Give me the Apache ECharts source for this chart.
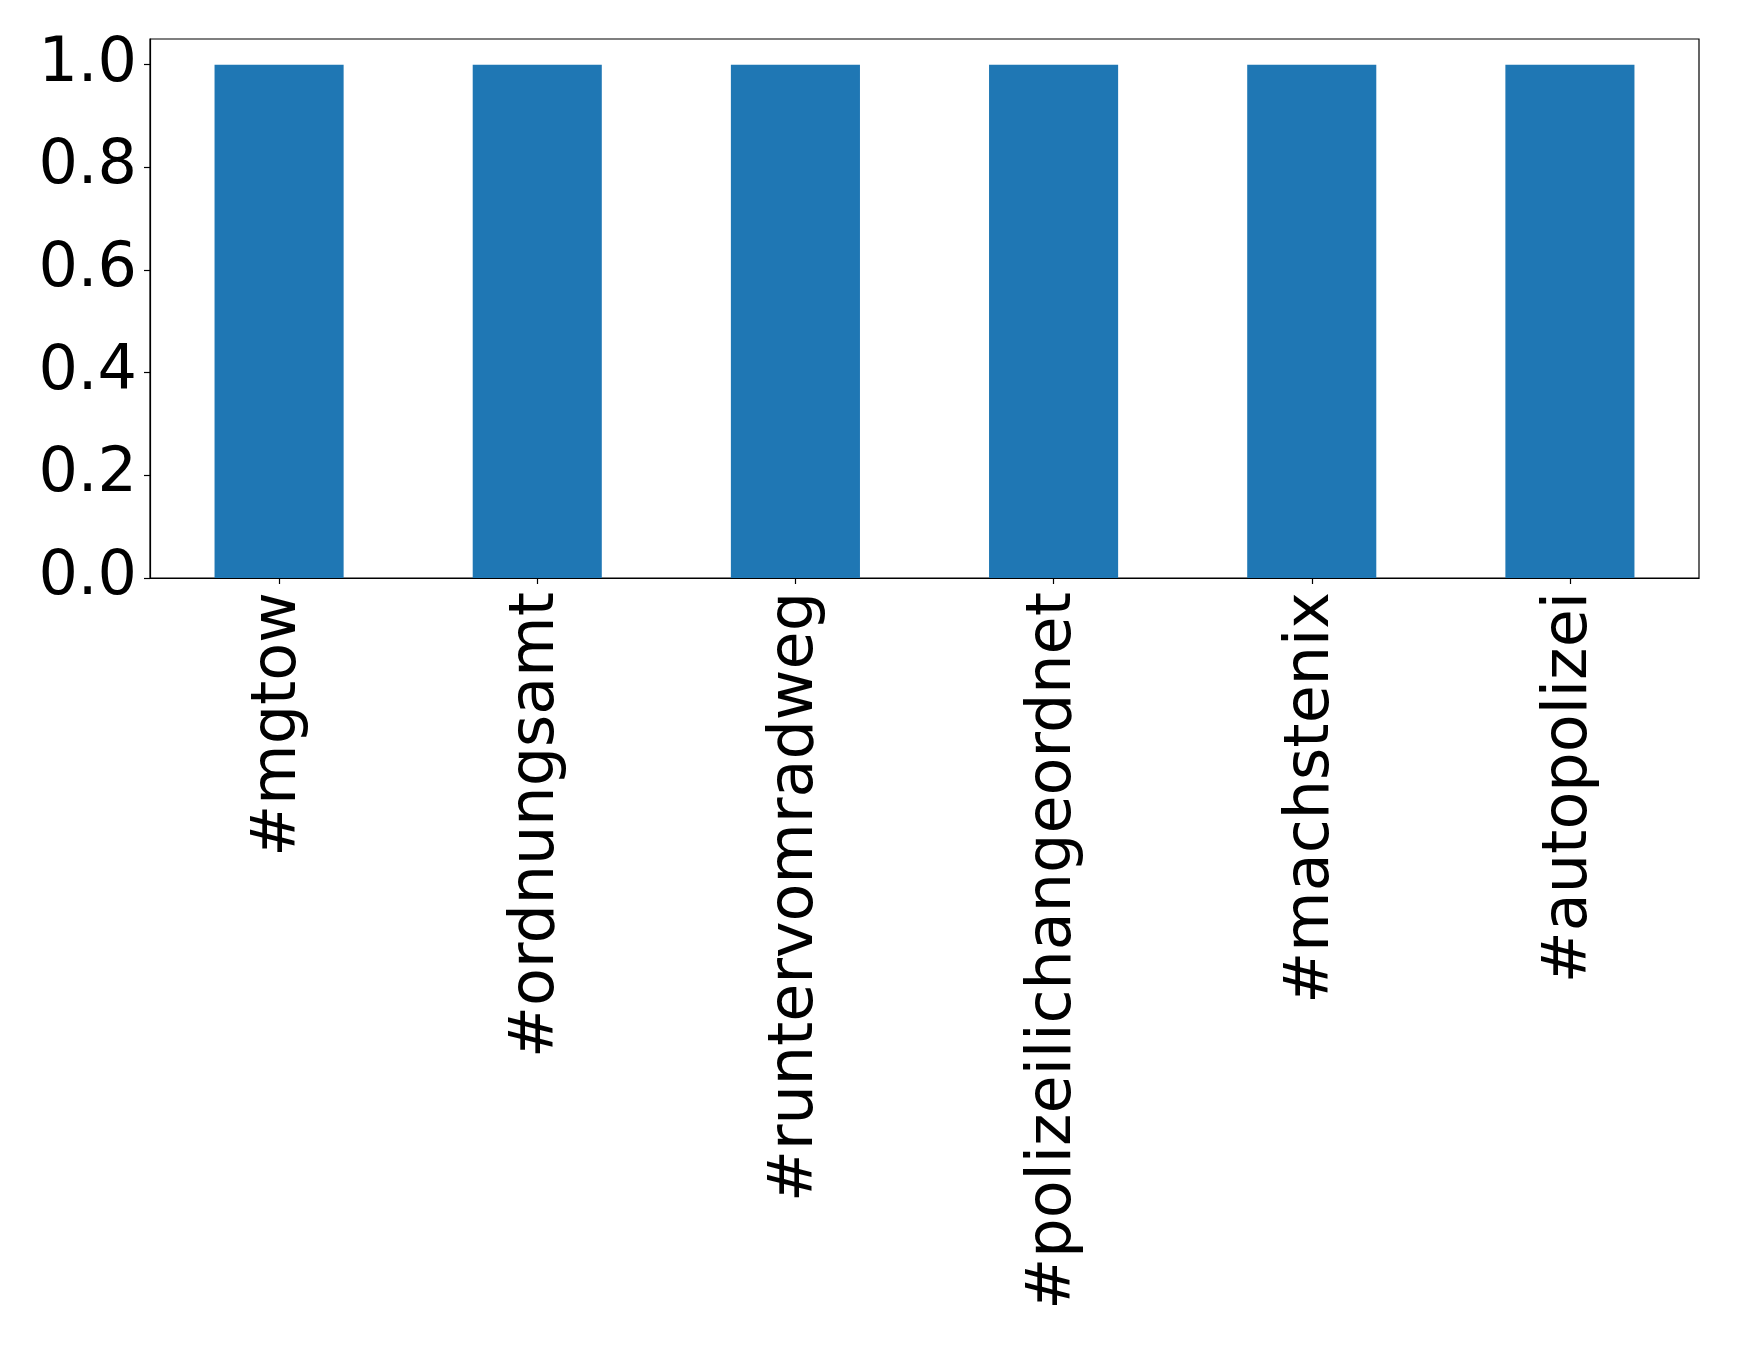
<!DOCTYPE html>
<html>
<head>
<meta charset="utf-8">
<script src="https://cdn.jsdelivr.net/npm/echarts@6/dist/echarts.min.js"></script>
<style>
html,body{margin:0;padding:0;background:#fff;}
#chart{width:1739px;height:1351px;}
</style>
</head>
<body>
<div id="chart"></div>
<script>
const categories = ["#mgtow", "#ordnungsamt", "#runtervomradweg", "#polizeilichangeordnet", "#machstenix", "#autopolizei"];
const values = [1, 1, 1, 1, 1, 1];
const yTicks = [0, 0.2, 0.4, 0.6, 0.8, 1.0];

const chart = echarts.init(document.getElementById('chart'), null, {renderer: 'canvas'});
const font = 'DejaVu Sans';
chart.setOption({
  animation: false,
  backgroundColor: '#ffffff',
  grid: {left: 150, right: 40, top: 39, bottom: 773, show: true, borderColor: '#000', borderWidth: 1.2, containLabel: false},
  xAxis: {
    type: 'category',
    data: categories,
    axisLine: {show: true, lineStyle: {color: '#000', width: 1.2}},
    axisTick: {show: true, alignWithLabel: true, length: 6, lineStyle: {color: '#000', width: 1.2}},
    axisLabel: {rotate: 90, color: '#000', fontFamily: font, fontSize: 62, margin: 14, interval: 0},
    splitLine: {show: false}
  },
  yAxis: {
    type: 'value',
    min: 0,
    max: 1.05,
    interval: 0.2,
    axisLine: {show: true, lineStyle: {color: '#000', width: 1.2}},
    axisTick: {show: true, length: 6, lineStyle: {color: '#000', width: 1.2}, customValues: yTicks},
    axisLabel: {color: '#000', fontFamily: font, fontSize: 62, margin: 13, customValues: yTicks,
      formatter: v => v.toFixed(1)},
    splitLine: {show: false}
  },
  series: [{
    type: 'bar',
    data: values,
    barWidth: '50%',
    itemStyle: {color: '#1f77b4'}
  }]
});
</script>
</body>
</html>
